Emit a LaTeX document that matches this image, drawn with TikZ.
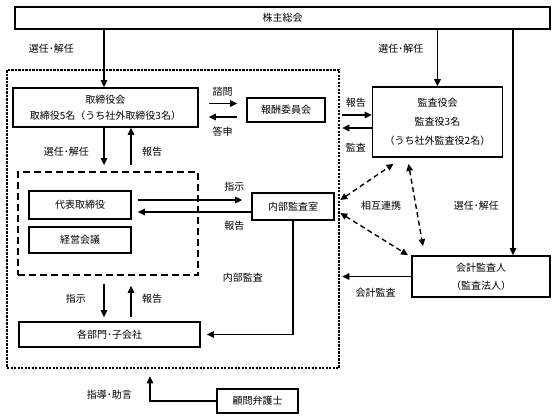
\documentclass[tikz,border=0pt]{standalone}
\usepackage{fontspec}
\setmainfont{Noto Sans CJK JP}
\usetikzlibrary{arrows.meta}

\tikzset{
  block/.style={rectangle, draw, line width=1.7pt, inner sep=0pt, align=center},
  groupbox/.style={rectangle, draw, line width=2.6pt, dash pattern=on 2.2pt off 1.3pt, inner sep=0pt},
  execbox/.style={rectangle, draw, line width=1.8pt, dash pattern=on 7pt off 4pt, inner sep=0pt},
  arrow/.style={-{Triangle[length=7pt,width=6.5pt]}, line width=1.4pt},
  link/.style={{Triangle[length=7pt,width=6.5pt]}-{Triangle[length=7pt,width=6.5pt]}, line width=1.4pt, dash pattern=on 5pt off 3.5pt},
}

\begin{document}
\begin{tikzpicture}[x=1pt, y=-1pt, font=\fontsize{10}{12}\selectfont]
  \useasboundingbox (0,0) rectangle (557,419);

  % 機関
  \node[block, minimum width=535, minimum height=22] (soukai) at (282.5,18) {株主総会};
  \node[block, minimum width=185, minimum height=39, font=\fontsize{10}{16}\selectfont] (board) at (105.5,107.5) {取締役会\\取締役5名（うち社外取締役3名）};
  \node[block, minimum width=78, minimum height=24] (housyu) at (286,110) {報酬委員会};
  \node[block, minimum width=130, minimum height=70, font=\fontsize{10}{19}\selectfont] (kansa) at (437.5,122) {監査役会\\監査役3名\\（うち社外監査役2名）};
  \node[block, minimum width=102, minimum height=28] (daihyo) at (80,205) {代表取締役};
  \node[block, minimum width=102, minimum height=26] (keiei) at (80,240) {経営会議};
  \node[block, minimum width=82, minimum height=27] (naibu) at (293,206.5) {内部監査室};
  \node[block, minimum width=138, minimum height=41, font=\fontsize{10}{18}\selectfont] (kaikei) at (481,276.5) {会計監査人\\（監査法人）};
  \node[block, minimum width=181, minimum height=25] (kakubu) at (109.5,334.5) {各部門･子会社};
  \node[block, minimum width=81, minimum height=24] (komon) at (257.5,401) {顧問弁護士};

  % 枠
  \node[groupbox, minimum width=332, minimum height=298] (company) at (173,219) {};
  \node[execbox, minimum width=180, minimum height=103] (exec) at (108,223.5) {};

  % 選任・解任
  \draw[arrow] ([xshift=-1.5pt]board.north |- soukai.south) -- ([xshift=-1.5pt]board.north)
    node[pos=0.33, left=26pt] (l1) {選任･解任};
  \draw[arrow] (kansa.north |- soukai.south) -- (kansa.north)
    node[pos=0.33, left=10pt] (l2) {選任･解任};
  \draw[arrow] ([xshift=32pt]kaikei.north |- soukai.south) -- ([xshift=32pt]kaikei.north)
    node[pos=0.78, left=10pt] (l3) {選任･解任};

  % 報酬委員会
  \draw[arrow, shorten <=10pt, shorten >=9pt] ([yshift=4pt]board.east) -- ([yshift=4pt]board.east -| housyu.west)
    node[midway, above=3pt] (l4) {諮問};
  \draw[arrow, shorten <=9pt, shorten >=10pt] ([yshift=-9.5pt]board.east -| housyu.west) -- ([yshift=-9.5pt]board.east)
    node[midway, below=6pt] (l5) {答申};

  % 監査役会
  \draw[arrow, shorten <=2pt] ([yshift=7pt]kansa.west -| company.east) -- ([yshift=7pt]kansa.west)
    node[midway, above=4pt] (l6) {報告};
  \draw[arrow, shorten >=2pt] ([yshift=-6pt]kansa.west) -- ([yshift=-6pt]kansa.west -| company.east)
    node[midway, below=11pt] (l7) {監査};

  % 取締役会と業務執行
  \draw[arrow, shorten >=6pt] ([xshift=-1.5pt]board.south) -- ([xshift=-1.5pt]board.south |- exec.north)
    node[pos=0.55, left=11pt] (l8) {選任･解任};
  \draw[arrow, shorten <=6pt] ([xshift=25.5pt]board.south |- exec.north) -- ([xshift=25.5pt]board.south)
    node[pos=0.45, right=7pt] (l9) {報告};
  \draw[arrow, shorten <=8pt, shorten >=4pt] ([xshift=-1.5pt]board.south |- exec.south) -- ([xshift=-1.5pt]board.south |- kakubu.north)
    node[midway, left=14pt] (l10) {指示};
  \draw[arrow, shorten <=4pt, shorten >=10pt] ([xshift=25.5pt]board.south |- kakubu.north) -- ([xshift=25.5pt]board.south |- exec.south)
    node[midway, right=7pt] (l11) {報告};

  % 内部監査室
  \draw[arrow, shorten <=6pt, shorten >=9pt] ([yshift=5pt]daihyo.east) -- ([yshift=5pt]daihyo.east -| naibu.west)
    node[pos=0.86, above=5pt] (l12) {指示};
  \draw[arrow, shorten <=0pt, shorten >=6pt] ([yshift=-7pt]daihyo.east -| naibu.west) -- ([yshift=-7pt]daihyo.east)
    node[pos=0.14, below=5pt] (l13) {報告};
  \draw[arrow, shorten >=6pt] (naibu.south) |- (kakubu.east)
    node[pos=0.25, left=26pt] (l14) {内部監査};

  % 相互連携
  \draw[link] ([yshift=6.5pt]naibu.east -| company.east) -- ([xshift=-44pt, yshift=-6pt]kansa.south);
  \draw[link] ([yshift=-6.5pt]naibu.east -| company.east) -- ([xshift=-73pt]kaikei.north);
  \draw[link] ([xshift=-29pt, yshift=-6pt]kansa.south) -- ([xshift=-58pt, yshift=9pt]kaikei.north);
  \node (l15) at (381,206) {相互連携};

  % 会計監査人
  \draw[arrow, shorten >=2pt] (kaikei.west) -- (kaikei.west -| company.east)
    node[midway, below=8pt] (l16) {会計監査};

  % 顧問弁護士
  \draw[arrow, shorten >=7pt] (komon.west) -| ([xshift=-23pt]company.south)
    node[pos=0.6, left=14pt] (l17) {指導･助言};
\end{tikzpicture}
\end{document}
